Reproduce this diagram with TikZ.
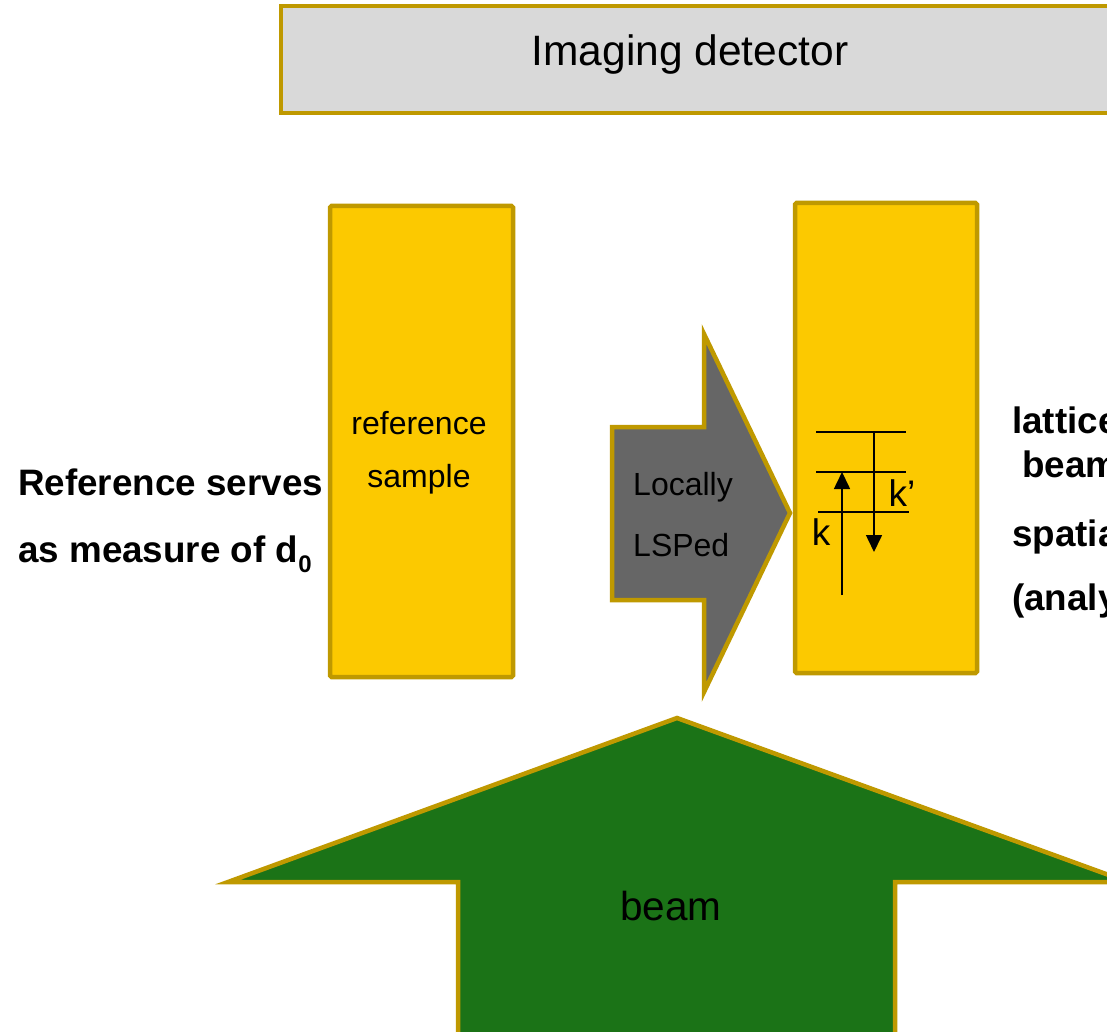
\documentclass[tikz,border=0pt]{standalone}
\usepackage{fontspec}
\setmainfont{Liberation Sans}
\usetikzlibrary{arrows.meta}
\definecolor{goldline}{HTML}{BF9900}
\definecolor{sampleyellow}{HTML}{FCC900}
\definecolor{detgray}{HTML}{D9D9D9}
\definecolor{arrowgray}{HTML}{666666}
\definecolor{beamgreen}{HTML}{1B7317}
\tikzset{
  goldshape/.style={draw=goldline, line width=4.5pt, line join=miter},
  samplebox/.style={goldshape, fill=sampleyellow, rounded corners=1.5pt},
  boldtxt/.style={font=\fontsize{36.8}{42}\selectfont\bfseries, anchor=base west, inner sep=0pt},
  plaintxt/.style={font=\fontsize{32}{36}\selectfont, inner sep=0pt},
  latline/.style={line width=1.6pt},
  latarrow/.style={line width=1.6pt, -{Triangle[length=17pt,width=16pt]}},
}
\begin{document}
\begin{tikzpicture}[x=1pt,y=-1pt]
\useasboundingbox (0,0) rectangle (1107,1032);
\clip (0,0) rectangle (1107,1032);
% detector
\draw[goldshape, fill=detgray] (281,6) rectangle (1125,113);
\node[font=\fontsize{42.5}{48}\selectfont, inner sep=0pt] (det) at (690,55) {Imaging detector};
% samples
\draw[samplebox] (330,206) rectangle (513,677);
\node[plaintxt] (ref1) at (419,423) {reference};
\node[plaintxt] (ref2) at (419,479) {sample};
\draw[samplebox] (795,203) rectangle (977,673);
% gray arrow
\draw[goldshape, fill=arrowgray] (612,427) -- (704,427) -- (704,334) -- (790,513) -- (704,692) -- (704,600) -- (612,600) -- cycle;
\node[plaintxt, anchor=west] (loc1) at (633,487) {Locally};
\node[plaintxt, anchor=west] (loc2) at (633,545) {LSPed};
% green beam arrow
\draw[goldshape, fill=beamgreen] (677,718) -- (1128,882) -- (895,882) -- (895,1045) -- (458,1045) -- (458,882) -- (228,882) -- cycle;
\node[font=\fontsize{40.5}{46}\selectfont, inner sep=0pt] (beam) at (671,906) {beam};
% lattice planes
\coordinate (l1a) at (816,432); \coordinate (l1b) at (906,432);
\coordinate (l2a) at (816,472); \coordinate (l2b) at (906,472);
\coordinate (l3a) at (818,512); \coordinate (l3b) at (909,512);
\draw[latline] (l1a) -- (l1b);
\draw[latline] (l2a) -- (l2b);
\draw[latline] (l3a) -- (l3b);
\coordinate (kin0) at (842,595); \coordinate (kin1) at (842,472);
\coordinate (kout0) at (874,432); \coordinate (kout1) at (874,552);
\draw[latarrow] (kin0) -- (kin1);
\draw[latarrow] (kout0) -- (kout1);
\node[font=\fontsize{37}{40}\selectfont, inner sep=0pt] (klab) at (821,532) {k};
\node[font=\fontsize{37}{40}\selectfont, inner sep=0pt] (kplab) at (902,493) {k’};
% left texts
\node[boldtxt] (t1) at (18,495) {Reference serves};
\node[boldtxt] (t2) at (18,562) {as measure of d\raisebox{-0.28em}{\fontsize{24}{25}\selectfont\bfseries 0}};
% right texts
\node[boldtxt] (r1) at (1012,433) {lattice};
\node[boldtxt] (r2) at (1022,477) {beam};
\node[boldtxt] (r3) at (1012,546) {spatia};
\node[boldtxt] (r4) at (1012,610) {(analy};
\end{tikzpicture}
\end{document}
